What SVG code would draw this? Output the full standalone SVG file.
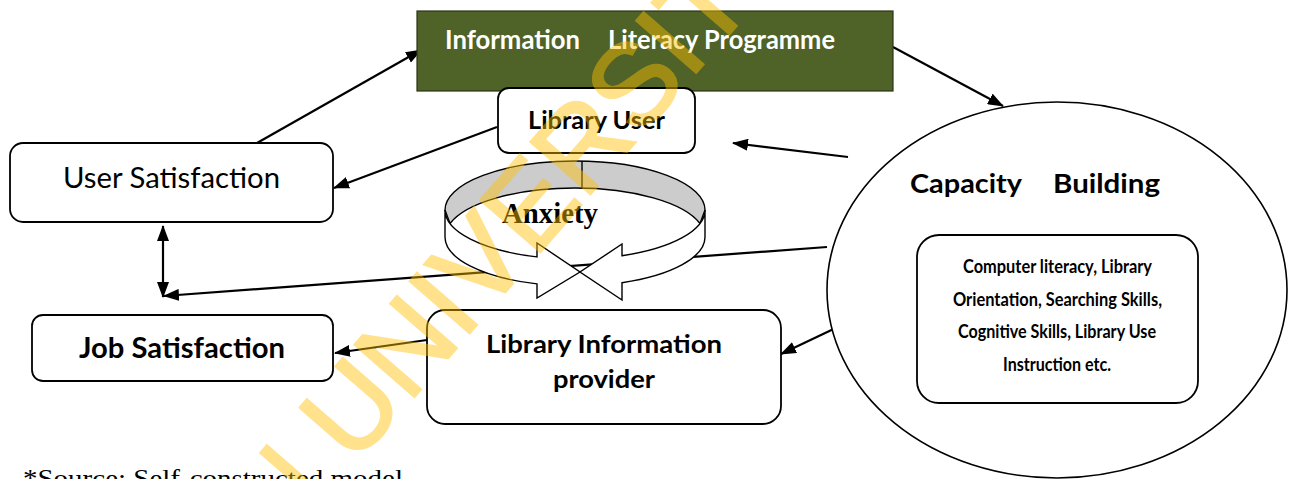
<svg xmlns="http://www.w3.org/2000/svg" width="1296" height="479" viewBox="0 0 1296 479">
  <defs>
    <marker id="arrow" viewBox="0 0 16 12" refX="15" refY="6" markerWidth="16" markerHeight="12" markerUnits="userSpaceOnUse" orient="auto-start-reverse">
      <path d="M0,0 L16,6 L0,12 Z" fill="#000"/>
    </marker>
  </defs>
  <style>
    .box { fill: #fff; stroke: #000; stroke-width: 1.8; }
    .sans { font-family: Lato, "Liberation Sans", sans-serif; }
    .bold { font-weight: bold; }
    .conn { fill: none; stroke: #000; stroke-width: 2.2; marker-end: url(#arrow); }
    .ring { stroke: #000; stroke-width: 1.4; stroke-linejoin: miter; }
  </style>
  <rect width="1296" height="479" fill="#fff"/>

  <!-- connectors (drawn first so the anxiety ring covers the long one) -->
  <g id="connectors">
    <path class="conn" d="M257,143 L421,50"/>
    <path class="conn" d="M893,47 L1003,106"/>
    <path class="conn" d="M848,157 L733,143"/>
    <path class="conn" d="M497,127 L334,188"/>
    <path class="conn" d="M163,226 L163,297" style="marker-start:url(#arrow)"/>
    <path class="conn" d="M827,247 L164,296"/>
    <path class="conn" d="M427,340 L335,353"/>
    <path class="conn" d="M943,277 L781,354"/>
  </g>

  <g id="programme">
    <rect x="417" y="11" width="476" height="80" fill="#4f6228" stroke="#2b3516" stroke-width="1.2"/>
    <text class="sans bold" x="445" y="49" font-size="26" fill="#fff" textLength="135" lengthAdjust="spacingAndGlyphs">Information</text>
    <text class="sans bold" x="608" y="49" font-size="26" fill="#fff" textLength="227" lengthAdjust="spacingAndGlyphs">Literacy Programme</text>
  </g>

  <g id="library-user">
    <rect class="box" x="498" y="88" width="197" height="65" rx="11"/>
    <text class="sans bold" x="528" y="129" font-size="25" textLength="137" lengthAdjust="spacingAndGlyphs">Library User</text>
  </g>

  <g id="user-satisfaction">
    <rect class="box" x="10" y="143" width="323" height="79" rx="13"/>
    <text class="sans" x="63" y="188" font-size="28" textLength="217" lengthAdjust="spacingAndGlyphs">User Satisfaction</text>
  </g>

  <g id="job-satisfaction">
    <rect class="box" x="32" y="315" width="301" height="66" rx="11"/>
    <text class="sans bold" x="79" y="358" font-size="28" textLength="206" lengthAdjust="spacingAndGlyphs">Job Satisfaction</text>
  </g>

  <g id="information-provider">
    <rect class="box" x="427" y="310" width="354" height="114" rx="18"/>
    <text class="sans bold" x="486" y="353" font-size="25" textLength="236" lengthAdjust="spacingAndGlyphs">Library Information</text>
    <text class="sans bold" x="553" y="388" font-size="25" textLength="102" lengthAdjust="spacingAndGlyphs">provider</text>
  </g>

  <g id="capacity-building">
    <ellipse cx="1057" cy="290" rx="230" ry="188" fill="#fff" stroke="#000" stroke-width="1.6"/>
    <text class="sans bold" x="910" y="193" font-size="26" textLength="112" lengthAdjust="spacingAndGlyphs">Capacity</text>
    <text class="sans bold" x="1053" y="193" font-size="26" textLength="107" lengthAdjust="spacingAndGlyphs">Building</text>
    <rect class="box" x="917" y="235" width="281" height="168" rx="22" stroke-width="1.4"/>
    <g class="sans bold" font-size="18" text-anchor="middle">
      <text x="1057.5" y="273" textLength="189" lengthAdjust="spacingAndGlyphs">Computer literacy, Library</text>
      <text x="1057.5" y="306" textLength="209" lengthAdjust="spacingAndGlyphs">Orientation, Searching Skills,</text>
      <text x="1057" y="338" textLength="198" lengthAdjust="spacingAndGlyphs">Cognitive Skills, Library Use</text>
      <text x="1057" y="371" textLength="108" lengthAdjust="spacingAndGlyphs">Instruction etc.</text>
    </g>
  </g>

  <g id="anxiety">
    <!-- back of the band, seen from inside -->
    <path class="ring" fill="#cccccc" d="M445,210 A130,49 0 0 1 705,210 L700,223.5 A130,49 0 0 0 450,223.5 Z"/>
    <line class="ring" x1="582" y1="161" x2="582" y2="188"/>
    <!-- front band, left half ending in an arrowhead -->
    <path class="ring" fill="#fff" d="M445,210 L445,237 A130,49 0 0 0 537,283.9 L537,298 L580,272 L537,243 L537,256.9 A130,49 0 0 1 445,210 Z"/>
    <!-- front band, right half ending in an arrowhead -->
    <path class="ring" fill="#fff" d="M705,210 L705,237 A130,49 0 0 1 622,282.7 L622,300 L580,272 L622,244 L622,255.7 A130,49 0 0 0 705,210 Z"/>
    <text x="502" y="223" font-family="'Liberation Serif', serif" font-weight="bold" font-size="29" textLength="96" lengthAdjust="spacingAndGlyphs">Anxiety</text>
  </g>

  <text x="23" y="487" font-family="'Liberation Serif', serif" font-size="26" textLength="380" lengthAdjust="spacingAndGlyphs">*Source: Self-constructed model</text>

  <!-- diagonal page watermark -->
  <g opacity="0.45">
    <text transform="translate(228,611) rotate(-49)" font-family="'Liberation Sans', sans-serif" font-size="115" fill="#ffc000" stroke="#ffc000" stroke-width="2.5">AN UNIVERSITY</text>
  </g>
</svg>
